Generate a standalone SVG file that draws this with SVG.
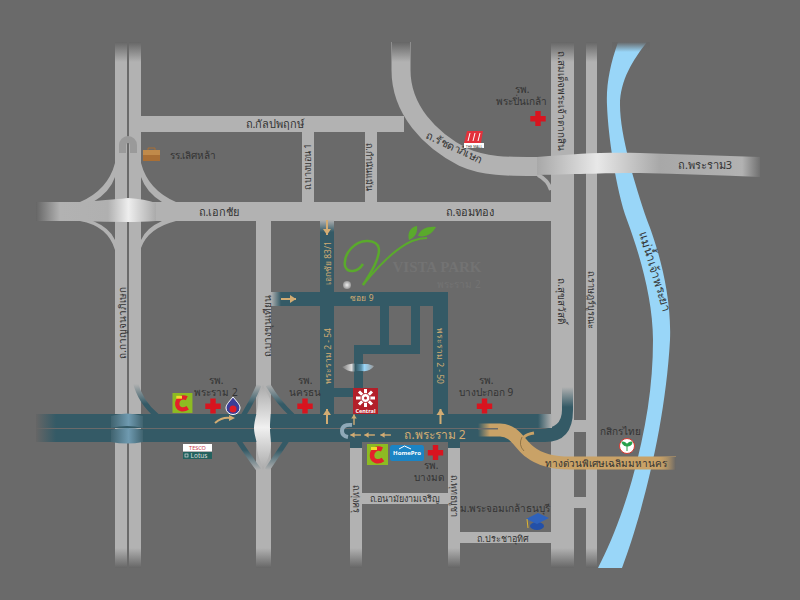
<svg xmlns="http://www.w3.org/2000/svg" xmlns:xlink="http://www.w3.org/1999/xlink" width="800" height="600" viewBox="0 0 800 600">
<style>
text{font-family:"Noto Sans","DejaVu Sans","Liberation Sans",sans-serif;font-size:10px;fill:#333;text-anchor:middle}
.t{fill:#d2ac73;font-size:8.500px}
.g{fill:#b2b2b2}
.b{fill:#345a66}
.bs{fill:none;stroke-width:5}
.a{fill:none;stroke:#d2ac73;stroke-width:2}
.ah{fill:#d2ac73}
</style>
<defs>
<linearGradient id="fT" x1="0" y1="0" x2="0" y2="1"><stop offset="0" stop-color="#666"/><stop offset="1" stop-color="#666" stop-opacity="0"/></linearGradient>
<linearGradient id="fB" x1="0" y1="1" x2="0" y2="0"><stop offset="0" stop-color="#666"/><stop offset="1" stop-color="#666" stop-opacity="0"/></linearGradient>
<linearGradient id="fL" x1="0" y1="0" x2="1" y2="0"><stop offset="0" stop-color="#666"/><stop offset="1" stop-color="#666" stop-opacity="0"/></linearGradient>
<linearGradient id="gR" x1="1" y1="0" x2="0" y2="0"><stop offset="0" stop-color="#b2b2b2"/><stop offset="1" stop-color="#b2b2b2" stop-opacity="0"/></linearGradient>
<linearGradient id="gLft" x1="0" y1="0" x2="1" y2="0"><stop offset="0" stop-color="#b2b2b2"/><stop offset="1" stop-color="#b2b2b2" stop-opacity="0"/></linearGradient>
<linearGradient id="gT" x1="0" y1="0" x2="0" y2="1"><stop offset="0" stop-color="#b2b2b2"/><stop offset="1" stop-color="#b2b2b2" stop-opacity="0"/></linearGradient>
<linearGradient id="tealL" x1="0" y1="0" x2="1" y2="0"><stop offset="0" stop-color="#345a66"/><stop offset="1" stop-color="#345a66" stop-opacity="0"/></linearGradient>
<linearGradient id="rU" gradientUnits="userSpaceOnUse" x1="0" y1="384" x2="0" y2="404"><stop offset="0" stop-color="#b2b2b2"/><stop offset="1" stop-color="#345a66"/></linearGradient>
<linearGradient id="rD" gradientUnits="userSpaceOnUse" x1="0" y1="470" x2="0" y2="450"><stop offset="0" stop-color="#b2b2b2"/><stop offset="1" stop-color="#345a66"/></linearGradient>
<linearGradient id="cross" x1="0" y1="0" x2="1" y2="0"><stop offset="0" stop-color="#40636f"/><stop offset=".55" stop-color="#6f9ab0"/><stop offset="1" stop-color="#40636f"/></linearGradient>
<linearGradient id="brE" gradientUnits="userSpaceOnUse" x1="36" y1="0" x2="156" y2="0"><stop offset="0" stop-color="#666"/><stop offset=".2" stop-color="#b2b2b2"/><stop offset=".6" stop-color="#b0b0b0"/><stop offset=".77" stop-color="#eee"/><stop offset="1" stop-color="#aaa"/></linearGradient>
<linearGradient id="brR" gradientUnits="userSpaceOnUse" x1="537" y1="0" x2="760" y2="0"><stop offset="0" stop-color="#a8a8a8"/><stop offset=".27" stop-color="#e8e8e8"/><stop offset=".55" stop-color="#a8a8a8"/><stop offset=".92" stop-color="#b2b2b2"/><stop offset="1" stop-color="#707070"/></linearGradient>
<linearGradient id="brV" x1="0" y1="0" x2="0" y2="1"><stop offset="0" stop-color="#aaa"/><stop offset=".5" stop-color="#f0f0f0"/><stop offset="1" stop-color="#aaa"/></linearGradient>
<linearGradient id="canal" x1="0" y1="0" x2="1" y2="0"><stop offset="0" stop-color="#777"/><stop offset=".3" stop-color="#ddd"/><stop offset=".42" stop-color="#345a66"/><stop offset=".6" stop-color="#5c92ab"/><stop offset=".7" stop-color="#9ad6f8"/><stop offset="1" stop-color="#999"/></linearGradient>
<linearGradient id="exF" x1="1" y1="0" x2="0" y2="0"><stop offset="0" stop-color="#666"/><stop offset="1" stop-color="#c9a267" stop-opacity="0"/></linearGradient>
<radialGradient id="ball"><stop offset="0" stop-color="#eee"/><stop offset="1" stop-color="#999"/></radialGradient>
<path id="cr" d="M-2.700-7.500h5.400v5h5v5.400h-5v4.600h-5.400v-4.600h-5v-5.400h5z" fill="#d8141f"/>
<g id="au"><rect x="-1" y="-8" width="2" height="15" class="ah"/><path d="M-4-2 0-8 4-2z" class="ah"/></g>
<g id="bigc"><rect width="21" height="21" fill="#8dbb22"/><path d="M15 5.500C10 3 5 6 5 11.500S11 19 16 15.500" fill="none" stroke="#e3202b" stroke-width="4.500"/><rect x="4" y="3" width="6" height="3" fill="#f2dc2b"/></g>
</defs>
<rect width="800" height="600" fill="#6a6a6a"/>
<g id="river"><path d="M618 42C610 65 606 85 607 105C608 135 616 190 627 220C640 255 653 300 653 340C653 385 646 430 632 480C622 515 610 545 598 568H622C640 520 665 430 670 340C672 290 655 240 647 220C635 185 620 135 620 105C620 80 633 60 647 42Z" fill="#99d6f8"/><rect x="612" y="42" width="38" height="10" fill="url(#fT)"/></g>
<g id="roads">
<rect class="g" x="115" y="42" width="12" height="526"/><rect class="g" x="129" y="42" width="12" height="526"/>
<rect class="g" x="256" y="221" width="15" height="347"/>
<rect class="g" x="36" y="202" width="516" height="19"/>
<rect class="g" x="141" y="116" width="263" height="16"/>
<rect class="g" x="302" y="132" width="12" height="70"/><rect class="g" x="365" y="132" width="12" height="70"/>
<path d="M401 42V70C401 110 430 140 463 157C485 167 510 166.500 540 166.500" fill="none" stroke="#b2b2b2" stroke-width="19"/>
<rect class="g" x="551" y="42" width="23" height="526"/><rect class="g" x="586" y="42" width="11" height="526"/>
<rect class="g" x="574" y="420" width="12" height="12"/><rect class="g" x="574" y="497" width="12" height="11"/>
<rect class="g" x="350" y="442" width="12" height="126"/><rect class="g" x="448" y="442" width="12" height="126"/>
<rect class="g" x="362" y="493" width="86" height="11"/><rect class="g" x="460" y="532" width="91" height="11"/>
<path class="g" d="M115 163Q108 190 80 202H93Q110 192 115 177ZM80 221Q108 226 115 250V240Q110 228 93 221ZM141 163Q148 190 176 202H162Q146 192 141 177ZM176 221Q148 228 141 248V240Q146 228 162 221Z"/>
<path d="M538 175Q548 180 551 190" fill="none" stroke="#b2b2b2" stroke-width="4"/>
<path d="M119 153V145A9 9 0 0 1 137 145V153H130V145A2 2 0 0 0 126 145V153Z" fill="#9a9a9a"/>
<path d="M36 202H80Q120 199 128 198Q145 199 156 203V221Q140 222 128 222Q105 222 80 221H36Z" fill="url(#brE)"/>
<g fill="url(#fT)"><rect x="115" y="42" width="12" height="20"/><rect x="129" y="42" width="12" height="20"/><rect x="392" y="42" width="18" height="20"/><rect x="551" y="42" width="23" height="20"/><rect x="586" y="42" width="11" height="20"/></g>
<g fill="url(#fB)"><rect x="115" y="548" width="12" height="20"/><rect x="129" y="548" width="12" height="20"/><rect x="256" y="548" width="15" height="20"/><rect x="350" y="548" width="12" height="20"/><rect x="448" y="548" width="12" height="20"/><rect x="551" y="548" width="23" height="20"/><rect x="586" y="548" width="11" height="20"/></g>
<path d="M537 157C580 153 610 152 640 153C680 154 720 156 760 157V177C720 175 680 174 640 173C610 173 580 174 537 175Z" fill="url(#brR)"/>
</g>
<g id="blue-roads">
<rect class="b" x="36" y="414" width="516" height="14"/>
<path class="b" d="M36 429H540Q562 429 562 410V387H573V410Q573 442 545 442H36Z"/>
<rect fill="url(#fL)" x="36" y="414" width="20" height="28"/>
<rect fill="url(#gR)" x="538" y="414" width="14" height="14"/>
<rect fill="url(#gT)" x="562" y="387" width="11" height="20"/>
<rect class="b" x="320" y="220" width="14" height="194"/>
<rect fill="url(#gT)" x="320" y="220" width="14" height="12"/>
<rect class="b" x="271" y="292" width="177" height="14"/>
<rect fill="url(#gLft)" x="271" y="292" width="10" height="14"/>
<rect class="b" x="433" y="292" width="15" height="122"/>
<rect class="b" x="380" y="306" width="9" height="40"/><rect class="b" x="411" y="306" width="9" height="48"/>
<rect class="b" x="354" y="345" width="66" height="9"/><rect class="b" x="354" y="345" width="9" height="45"/>
<rect class="b" x="334" y="388" width="20" height="9"/>
<rect class="b" x="350" y="442" width="12" height="6"/><rect class="b" x="448" y="442" width="12" height="6"/>
<path class="bs" stroke="url(#rU)" d="M135 381Q140 402 157 416"/>
<path class="bs" stroke="url(#rU)" d="M243 416Q252 402 259 385"/>
<path class="bs" stroke="url(#rU)" d="M293 416Q278 402 268 385"/>
<path class="bs" stroke="url(#rD)" d="M238 440Q250 458 259 470"/>
<path class="bs" stroke="url(#rD)" d="M287 440Q275 458 267 470"/>
<path d="M111 416Q127 411 143 416V428Q127 424 111 428Z" fill="url(#cross)"/>
<path d="M111 430Q127 426 143 430V442Q127 445 111 442Z" fill="url(#cross)"/>
<path d="M263 385C266 393 271 397 271 404C271 415 270 420 270 428C270 435 271 438 271 444C271 455 266 462 263 470C261 462 257 455 257 447C257 440 254 435 254 428C254 420 258 412 258 400C258 395 261 390 263 385Z" fill="url(#brV)"/>
<path d="M342 367Q350 362 358 364H368L374 366Q370 372 362 371H356Q350 373 342 367Z" fill="url(#canal)"/>
<path d="M478 430H500C515 430 520 445 530 452C540 460 555 463 570 463H676" fill="none" stroke="#c9a267" stroke-width="13"/>
<rect x="478" y="423" width="12" height="14" fill="url(#tealL)"/>
<rect x="478" y="428" width="20" height="1.500" fill="#6a6a6a"/>
<rect x="656" y="457" width="20" height="13" fill="url(#exF)"/>
<path d="M522 445Q520 435 534 433" fill="none" stroke="#c9a267" stroke-width="3"/>
<path d="M522 437Q518 445 524 451" fill="none" stroke="#7a6238" stroke-width=".7"/>
</g>
<g id="arrows">
<use xlink:href="#au" transform="translate(327 227) rotate(180)"/>
<use xlink:href="#au" transform="translate(288 299) rotate(90)"/>
<use xlink:href="#au" transform="translate(327 417)"/>
<use xlink:href="#au" transform="translate(354 420) scale(.7)"/>
<use xlink:href="#au" transform="translate(440.500 417)"/>
<use xlink:href="#au" transform="translate(356 435) rotate(-90) scale(.7)"/>
<use xlink:href="#au" transform="translate(370 435) rotate(-90) scale(.7)"/>
<use xlink:href="#au" transform="translate(386 435) rotate(-90) scale(.7)"/>
<path d="M352 425Q342 424 342 431Q342 436 348 437" fill="none" stroke="#8fa9b8" stroke-width="4"/>
<path d="M215 423Q222 417 230 418" class="a"/><path d="M229 415 235 418 229 421z" class="ah"/>
</g>
<g id="labels">
<text x="275" y="128" style="font-size:11px">ถ.กัลปพฤกษ์</text>
<text x="219" y="216" style="font-size:11px">ถ.เอกชัย</text>
<text x="470" y="216" style="font-size:11px">ถ.จอมทอง</text>
<text transform="translate(453 151) rotate(25)" style="font-size:11px">ถ.รัชดาภิเษก</text>
<text><tspan x="522" y="93">รพ.</tspan><tspan x="521.500" y="105">พระปิ่นเกล้า</tspan></text>
<text transform="translate(558 101) rotate(90)">ถ.สมเด็จพระเจ้าตากสิน</text>
<text x="705" y="169" style="font-size:11px">ถ.พระราม3</text>
<text transform="translate(651 273) rotate(73)" style="font-size:12px">แม่น้ำเจ้าพระยา</text>
<text transform="translate(311 167) rotate(-90)" style="font-size:9px">ถ.บางบอน 1</text>
<text transform="translate(366 167) rotate(90)" style="font-size:9px">ถ.กำนันแม้น</text>
<text transform="translate(126 323) rotate(-90)">ถ.กาญจนาภิเษก</text>
<text transform="translate(271 326) rotate(-90)">ถ.บางขุนเทียน</text>
<text transform="translate(558 301) rotate(90)">ถ.สุขสวัสดิ์</text>
<text transform="translate(588 300) rotate(90)" style="font-size:9px">ถ.ราษฎร์บูรณะ</text>
<text class="t" x="362" y="301">ซอย 9</text>
<text class="t" transform="translate(331 263) rotate(-90)">เอกชัย 83/1</text>
<text class="t" transform="translate(331 356) rotate(-90)">พระราม 2 - 54</text>
<text class="t" transform="translate(437 356) rotate(90)">พระราม 2 - 50</text>
<text class="t" x="435" y="439" style="font-size:12px">ถ.พระราม 2</text>
<text><tspan x="216" y="384">รพ.</tspan><tspan x="216" y="396">พระราม 2</tspan></text>
<text><tspan x="305" y="384">รพ.</tspan><tspan x="305" y="396">นครธน</tspan></text>
<text><tspan x="486" y="384">รพ.</tspan><tspan x="486" y="396">บางปะกอก 9</tspan></text>
<text><tspan x="431" y="469">รพ.</tspan><tspan x="429" y="481">บางมด</tspan></text>
<text x="193" y="159">รร.เลิศหล้า</text>
<text x="620" y="435">กสิกรไทย</text>
<text x="606" y="467">ทางด่วนพิเศษเฉลิมมหานคร</text>
<text x="505" y="512">ม.พระจอมเกล้าธนบุรี</text>
<text x="405" y="502" style="font-size:9px">ถ.อนามัยงามเจริญ</text>
<text x="503" y="542" style="font-size:9px">ถ.ประชาอุทิศ</text>
<text transform="translate(353 499) rotate(90)" style="font-size:9px">ถ.ทุ่งครุ</text>
<text transform="translate(451 496) rotate(90)" style="font-size:9px">ถ.พุทธบูชา</text>
</g>
<g id="logo">
<g fill="none" stroke="#5aaa2c"><path stroke-width="2.500" d="M363 264C358 272 348 274 345 266C343 253 356 240 368 241C382 242 380 252 376 262C372 272 366 280 363 285"/><path stroke-width="2" d="M363 285C375 270 392 250 412 241C420 238 425 238 427 238"/></g>
<path d="M409 240C407 232 411 227 417 226C418 232 415 238 409 240ZM418 236C420 229 428 226 436 227C433 233 426 238 418 236Z" fill="#5aaa2c"/>
<circle cx="347" cy="285" r="4" fill="url(#ball)"/>
<text x="437" y="272" style="font-family:'Liberation Serif',serif;font-size:15px;font-weight:bold;fill:#737373">VISTA PARK</text>
<text x="459" y="288" style="font-size:10px;fill:#737373">พระราม 2</text>
</g>
<g id="icons">
<use xlink:href="#cr" transform="translate(213 406)"/><use xlink:href="#cr" transform="translate(305 406)"/><use xlink:href="#cr" transform="translate(484.500 406)"/><use xlink:href="#cr" transform="translate(435.500 452.500)"/><use xlink:href="#cr" transform="translate(538 118.500)"/>
<use xlink:href="#bigc" transform="translate(172.500 393) scale(.95)"/><use xlink:href="#bigc" transform="translate(367 444)"/>
<g id="ptt"><path d="M233 397C238 403 240 405 240 408A7 6.500 0 0 1 226 408C226 405 228 403 233 397Z" fill="#3a3d96" stroke="#fff"/><circle cx="233" cy="409" r="3.500" fill="#e01b25"/></g>
<g id="tesco"><rect x="183" y="444" width="29" height="7.500" fill="#fff"/><rect x="183" y="452" width="29" height="7" fill="#23625f"/><text x="197.500" y="450" style="font-size:5.500px;fill:#c83a4a">TESCO</text><text x="199" y="458" style="font-size:6.500px;fill:#ddd">Lotus</text><rect x="185" y="454" width="3" height="3" fill="none" stroke="#ddd" stroke-width=".7"/></g>
<g id="homepro"><rect x="390" y="445" width="34" height="16" rx="2.500" fill="#1b84c4"/><path d="M399 449 404.500 446 411 449" fill="none" stroke="#fff"/><text x="407" y="455" style="font-size:6px;font-weight:bold;fill:#fff">HomePro</text></g>
<g id="central"><rect x="353" y="388" width="25" height="26" fill="#b3202a"/><g stroke="#fff" stroke-width="3"><path d="M365.500 389V407M356 398H375M359 391.500 372 404.500M359 404.500 372 391.500"/></g><circle cx="365.500" cy="398" r="4.500" fill="#fff" stroke="#b3202a"/><circle cx="365.500" cy="398" r="1.500" fill="#b3202a"/><text x="365.500" y="413" style="font-size:5.500px;font-weight:bold;fill:#fff">Central</text></g>
<g id="mall"><rect x="464" y="143" width="20" height="5" fill="#fff"/><path d="M467 131H483L481 143H464Z" fill="#e2323c"/><path d="M470 133 468 141M475 133 473 141M480 133 478 141" stroke="#fff" fill="none"/><text x="474" y="147.500" style="font-size:3.500px;fill:#333">THE MALL</text></g>
<g id="school"><rect x="143" y="150" width="17" height="11" fill="#a96f35"/><rect x="143" y="150" width="17" height="5" fill="#c08a4a"/><path d="M148 150V148H155V150" stroke="#a96f35" fill="none"/></g>
<g id="cap"><ellipse cx="537" cy="526" rx="7" ry="4" fill="#2350a8"/><path d="M526 519 538 513 549 518 537 524Z" fill="#2f62bb"/><path d="M527 519 528 528" stroke="#e0b52f" fill="none"/></g>
<g id="kbank"><circle cx="627" cy="446" r="7.500" fill="#fff" stroke="#d83a30"/><path d="M627 451V446M627 446C624 446 622 444 622 442C625 442 627 443 627 446ZM627 446C627 443 629 442 632 442C632 445 630 446 627 446Z" fill="#24a04a" stroke="#24a04a"/></g>
</g>
</svg>
